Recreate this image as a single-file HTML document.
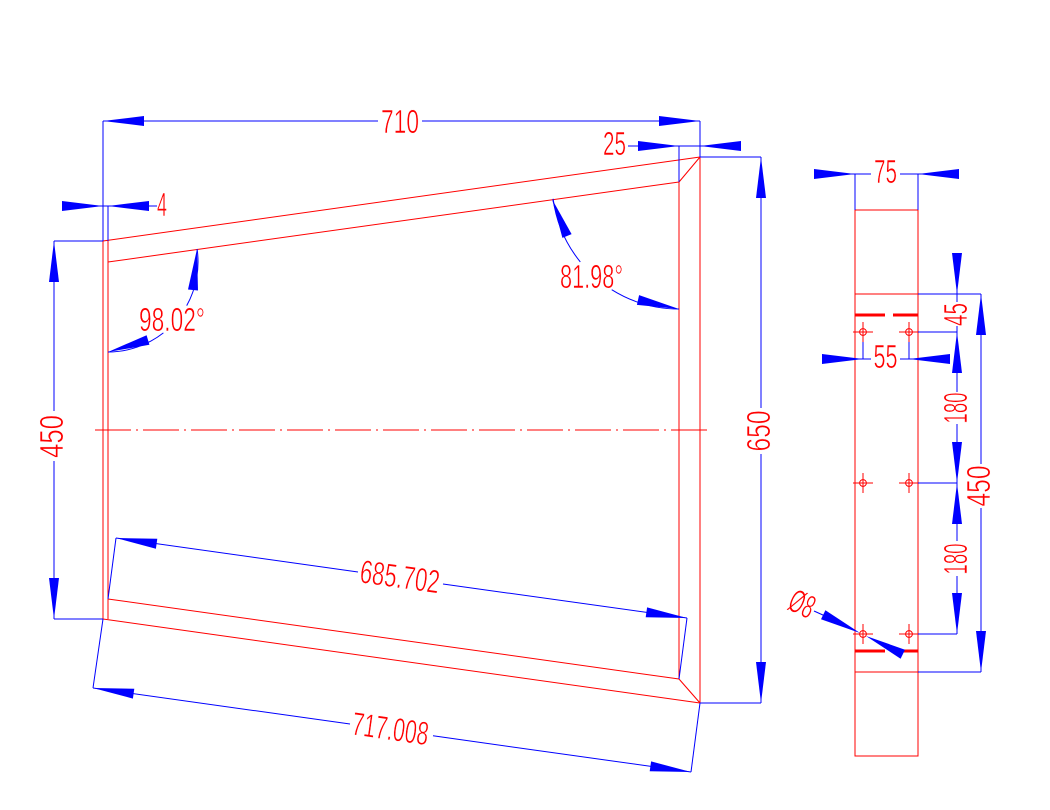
<!DOCTYPE html>
<html>
<head>
<meta charset="utf-8">
<style>
  html,body{margin:0;padding:0;background:#fff;}
  svg{display:block;}
  .r{stroke:#ff0000;stroke-width:1;fill:none;}
  .b{stroke:#0000ff;stroke-width:1;fill:none;}
  .a{fill:#0000ff;stroke:none;}
  .t{fill:#ff0000;stroke:#ffffff;stroke-width:0.6px;font-family:"Liberation Sans",sans-serif;font-size:33px;}
</style>
</head>
<body>
<svg width="1050" height="810" viewBox="0 0 1050 810" xmlns="http://www.w3.org/2000/svg">
  <rect width="1050" height="810" fill="#fff"/>

  <!-- ===== MAIN VIEW (red geometry) ===== -->
  <line class="r" x1="103" y1="241" x2="103" y2="619"/>
  <line class="r" x1="108" y1="241" x2="108" y2="619"/>
  <line class="r" x1="103" y1="241" x2="700" y2="157"/>
  <line class="r" x1="108" y1="262" x2="679" y2="182"/>
  <line class="r" x1="679" y1="182" x2="700" y2="157"/>
  <line class="r" x1="700" y1="157" x2="700" y2="703"/>
  <line class="r" x1="679" y1="182" x2="679" y2="679"/>
  <line class="r" x1="103" y1="619" x2="700" y2="703"/>
  <line class="r" x1="108" y1="599" x2="679" y2="679"/>
  <line class="r" x1="679" y1="679" x2="700" y2="703"/>
  <!-- center line -->
  <line class="r" x1="95" y1="430" x2="708" y2="430" stroke-dasharray="36 5 2 5"/>

  <!-- ===== MAIN VIEW dimensions ===== -->
  <!-- 710 -->
  <line class="b" x1="103" y1="121" x2="103" y2="241"/>
  <line class="b" x1="700" y1="121" x2="700" y2="157"/>
  <line class="b" x1="103" y1="121" x2="378" y2="121"/>
  <line class="b" x1="422" y1="121" x2="700" y2="121"/>
  <polygon class="a" points="103,121 144,116 144,126"/>
  <polygon class="a" points="700,121 659,116 659,126"/>
  <text class="t" x="400" y="133" text-anchor="middle" textLength="38" lengthAdjust="spacingAndGlyphs">710</text>

  <!-- 25 -->
  <line class="b" x1="679" y1="146" x2="679" y2="182"/>
  <line class="b" x1="628" y1="146" x2="741" y2="146"/>
  <polygon class="a" points="679,146 638,141 638,151"/>
  <polygon class="a" points="700,146 741,141 741,151"/>
  <text class="t" x="614.5" y="155" text-anchor="middle" textLength="23" lengthAdjust="spacingAndGlyphs">25</text>

  <!-- 4 -->
  <line class="b" x1="108" y1="206" x2="108" y2="241"/>
  <line class="b" x1="62" y1="206" x2="157" y2="206"/>
  <polygon class="a" points="103,206 62,201 62,211"/>
  <polygon class="a" points="108,206 149,201 149,211"/>
  <text class="t" x="162" y="216" text-anchor="middle" textLength="10" lengthAdjust="spacingAndGlyphs">4</text>

  <!-- 450 left -->
  <line class="b" x1="54" y1="241" x2="103" y2="241"/>
  <line class="b" x1="54" y1="619" x2="103" y2="619"/>
  <line class="b" x1="54" y1="241" x2="54" y2="411"/>
  <line class="b" x1="54" y1="461" x2="54" y2="619"/>
  <polygon class="a" points="54,241 49,282 59,282"/>
  <polygon class="a" points="54,619 49,578 59,578"/>
  <text class="t" transform="translate(63,436.5) rotate(-90)" x="0" y="0" text-anchor="middle" textLength="43" lengthAdjust="spacingAndGlyphs">450</text>

  <!-- 650 -->
  <line class="b" x1="700" y1="157" x2="761" y2="157"/>
  <line class="b" x1="700" y1="703" x2="761" y2="703"/>
  <line class="b" x1="761" y1="157" x2="761" y2="408"/>
  <line class="b" x1="761" y1="454" x2="761" y2="703"/>
  <polygon class="a" points="761,157 756,198 766,198"/>
  <polygon class="a" points="761,703 756,662 766,662"/>
  <text class="t" transform="translate(770,431) rotate(-90)" x="0" y="0" text-anchor="middle" textLength="41" lengthAdjust="spacingAndGlyphs">650</text>

  <!-- 98.02° -->
  <path class="b" d="M108,352 A90,90 0 0 0 163.4,332.9"/>
  <path class="b" d="M186.7,305.6 A90,90 0 0 0 197.1,249"/>
  <polygon class="a" points="108,352 149.4,344.8 146.6,335.2"/>
  <polygon class="a" points="197,249 198,290.5 188,289.5"/>
  <text class="t" x="172" y="331" text-anchor="middle" textLength="66" lengthAdjust="spacingAndGlyphs">98.02°</text>

  <!-- 81.98° -->
  <path class="b" d="M553.1,198.8 A127,127 0 0 0 580.3,261.9"/>
  <path class="b" d="M611.7,289.7 A127,127 0 0 0 679,309"/>
  <polygon class="a" points="552,199 571.6,234.1 562.4,237.9"/>
  <polygon class="a" points="679,309 639.1,295.1 636.9,304.9"/>
  <text class="t" x="591.5" y="288" text-anchor="middle" textLength="63" lengthAdjust="spacingAndGlyphs">81.98°</text>

  <!-- 685.702 -->
  <line class="b" x1="116" y1="538" x2="108" y2="599"/>
  <line class="b" x1="687" y1="618" x2="679" y2="679"/>
  <line class="b" x1="116" y1="538" x2="358" y2="572"/>
  <line class="b" x1="443" y1="584" x2="687" y2="618"/>
  <polygon class="a" points="116,538 155.9,548.7 157.3,538.8"/>
  <polygon class="a" points="687,618 645.7,617.3 647.1,607.4"/>
  <text class="t" transform="translate(400,576) rotate(7.97)" x="0" y="12" text-anchor="middle" textLength="80" lengthAdjust="spacingAndGlyphs">685.702</text>

  <!-- 717.008 -->
  <line class="b" x1="93" y1="688" x2="103" y2="619"/>
  <line class="b" x1="691" y1="772" x2="700" y2="703"/>
  <line class="b" x1="93" y1="688" x2="350" y2="724"/>
  <line class="b" x1="433" y1="735.8" x2="691" y2="772"/>
  <polygon class="a" points="93,688 132.9,698.6 134.3,688.8"/>
  <polygon class="a" points="691,772 649.7,771.3 651.1,761.4"/>
  <text class="t" transform="translate(390.5,728) rotate(8)" x="0" y="12" text-anchor="middle" textLength="77" lengthAdjust="spacingAndGlyphs">717.008</text>

  <!-- ===== SIDE VIEW ===== -->
  <rect class="r" x="855" y="210" width="63" height="546"/>
  <line class="r" x1="855" y1="294" x2="918" y2="294"/>
  <line class="r" x1="855" y1="672" x2="918" y2="672"/>
  <!-- thick hidden lines -->
  <line x1="855" y1="315" x2="885" y2="315" stroke="#ff0000" stroke-width="3"/>
  <line x1="893" y1="315" x2="918" y2="315" stroke="#ff0000" stroke-width="3"/>
  <line x1="855" y1="651" x2="885" y2="651" stroke="#ff0000" stroke-width="3"/>
  <line x1="893" y1="651" x2="918" y2="651" stroke="#ff0000" stroke-width="3"/>

  <!-- holes -->
  <g class="r">
    <circle cx="863" cy="332" r="3.4"/>
    <line x1="853" y1="332" x2="873" y2="332"/><line x1="863" y1="322" x2="863" y2="342"/>
    <circle cx="909" cy="332" r="3.4"/>
    <line x1="899" y1="332" x2="918" y2="332"/><line x1="909" y1="322" x2="909" y2="342"/>
    <circle cx="863" cy="483" r="3.4"/>
    <line x1="853" y1="483" x2="873" y2="483"/><line x1="863" y1="473" x2="863" y2="493"/>
    <circle cx="909" cy="483" r="3.4"/>
    <line x1="899" y1="483" x2="918" y2="483"/><line x1="909" y1="473" x2="909" y2="493"/>
    <circle cx="863" cy="634" r="3.4"/>
    <line x1="853" y1="634" x2="873" y2="634"/><line x1="863" y1="624" x2="863" y2="644"/>
    <circle cx="909" cy="634" r="3.4"/>
    <line x1="899" y1="634" x2="918" y2="634"/><line x1="909" y1="624" x2="909" y2="644"/>
  </g>

  <!-- 75 -->
  <line class="b" x1="855" y1="174" x2="855" y2="210"/>
  <line class="b" x1="918" y1="174" x2="918" y2="210"/>
  <line class="b" x1="814" y1="174" x2="871" y2="174"/>
  <line class="b" x1="900" y1="174" x2="959" y2="174"/>
  <polygon class="a" points="855,174 814,169 814,179"/>
  <polygon class="a" points="918,174 959,169 959,179"/>
  <text class="t" x="885.5" y="183" text-anchor="middle" textLength="23" lengthAdjust="spacingAndGlyphs">75</text>

  <!-- 55 -->
  <line class="b" x1="863" y1="342" x2="863" y2="359"/>
  <line class="b" x1="909" y1="342" x2="909" y2="359"/>
  <line class="b" x1="822" y1="359" x2="871" y2="359"/>
  <line class="b" x1="900" y1="359" x2="950" y2="359"/>
  <polygon class="a" points="863,359 822,354 822,364"/>
  <polygon class="a" points="909,359 950,354 950,364"/>
  <text class="t" x="885.5" y="368" text-anchor="middle" textLength="24" lengthAdjust="spacingAndGlyphs">55</text>

  <!-- extension lines right -->
  <line class="b" x1="918" y1="294" x2="981" y2="294"/>
  <line class="b" x1="918" y1="672" x2="981" y2="672"/>
  <line class="b" x1="918" y1="332" x2="957" y2="332"/>
  <line class="b" x1="918" y1="483" x2="957" y2="483"/>
  <line class="b" x1="918" y1="634" x2="957" y2="634"/>

  <!-- 45 -->
  <line class="b" x1="957" y1="253" x2="957" y2="302"/>
  <line class="b" x1="957" y1="326" x2="957" y2="392"/>
  <polygon class="a" points="957,294 952,253 962,253"/>
  <polygon class="a" points="957,332 952,373 962,373"/>
  <text class="t" transform="translate(967,314.5) rotate(-90)" x="0" y="0" text-anchor="middle" textLength="23" lengthAdjust="spacingAndGlyphs">45</text>

  <!-- 180 top -->
  <line class="b" x1="957" y1="424" x2="957" y2="541"/>
  <polygon class="a" points="957,483 952,442 962,442"/>
  <text class="t" transform="translate(967,408) rotate(-90)" x="0" y="0" text-anchor="middle" textLength="31" lengthAdjust="spacingAndGlyphs">180</text>

  <!-- 180 bottom -->
  <line class="b" x1="957" y1="576" x2="957" y2="634"/>
  <polygon class="a" points="957,483 952,524 962,524"/>
  <polygon class="a" points="957,634 952,593 962,593"/>
  <text class="t" transform="translate(967,559) rotate(-90)" x="0" y="0" text-anchor="middle" textLength="31" lengthAdjust="spacingAndGlyphs">180</text>

  <!-- 450 right -->
  <line class="b" x1="981" y1="294" x2="981" y2="464"/>
  <line class="b" x1="981" y1="508" x2="981" y2="672"/>
  <polygon class="a" points="981,294 976,335 986,335"/>
  <polygon class="a" points="981,672 976,631 986,631"/>
  <text class="t" transform="translate(990,486) rotate(-90)" x="0" y="0" text-anchor="middle" textLength="41" lengthAdjust="spacingAndGlyphs">450</text>

  <!-- Ø8 -->
  <line class="b" x1="814" y1="611" x2="824" y2="615.5"/>
  <polygon class="a" points="860,633 821,619.3 825.4,610.3"/>
  <polygon class="a" points="866,636 900.6,658.7 905,649.7"/>
  <text class="t" transform="translate(802,604) rotate(25)" x="0" y="11" text-anchor="middle" textLength="25" lengthAdjust="spacingAndGlyphs">Ø8</text>
</svg>
</body>
</html>
